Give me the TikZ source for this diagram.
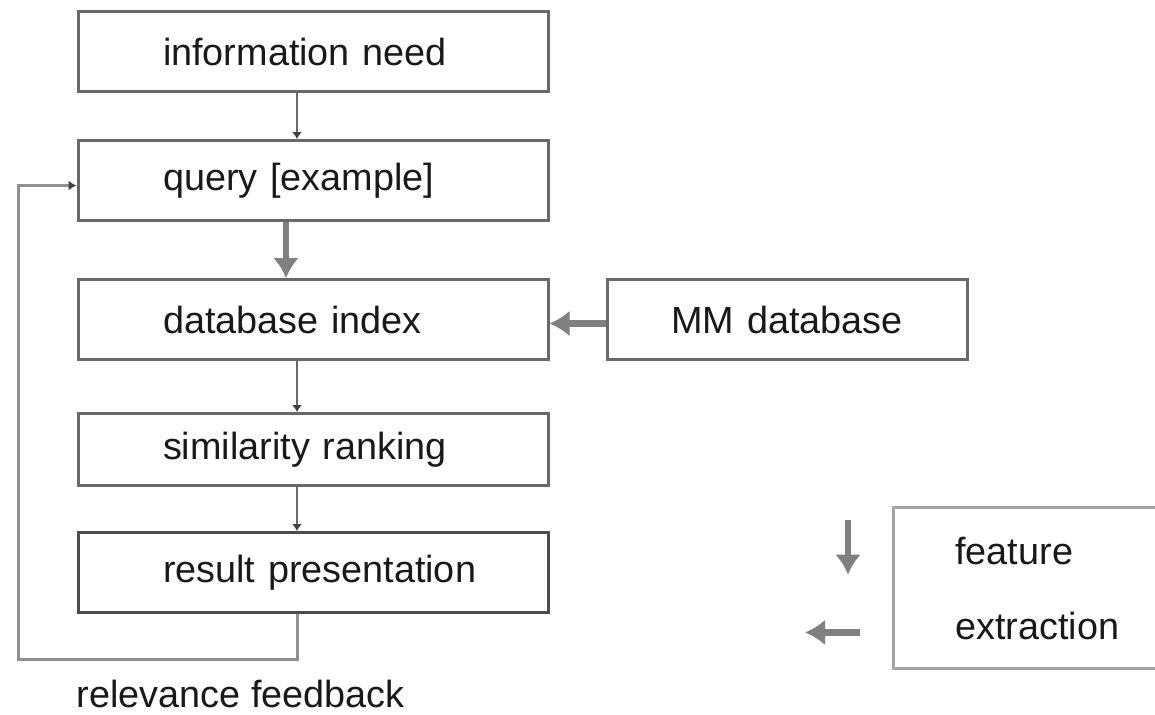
\documentclass[tikz,border=0pt]{standalone}
\usepackage{fontspec}
\setmainfont{Liberation Sans}
\usetikzlibrary{positioning, arrows.meta}
\definecolor{grisborde}{RGB}{105,105,105}
\definecolor{grisflecha}{RGB}{128,128,128}
\definecolor{grislazo}{RGB}{145,145,145}
\definecolor{grisabierto}{RGB}{165,165,165}
\tikzstyle{bloque} = [draw=grisborde, line width=1.5pt, rectangle, minimum height=40pt, text width=150pt, inner xsep=42.5pt, align=left, text=black!90, font=\fontsize{18.9}{22}\selectfont]
\tikzstyle{fina} = [draw=grisborde, line width=1pt, -{Latex[length=3.5pt,width=5pt,color=black!75]}]
\tikzstyle{gruesa} = [draw=grisflecha, line width=3.2pt, -{Latex[length=10pt,width=13pt]}]
\tikzstyle{retorno} = [draw=grislazo, line width=1.5pt, -{Latex[length=4pt,width=5pt,color=black!75]}]
\tikzstyle{abierta} = [draw=grisabierto, line width=1.5pt]

\begin{document}
\begin{tikzpicture}
	\useasboundingbox (0,0) rectangle (577.5pt,-357pt);
	% main chain
	\node[bloque] (need) at (156.5pt,-25.75pt) {information need};
	\node[bloque, below=23pt of need] (query) {query [example]};
	\node[bloque, below=28pt of query] (index) {database index};
	\node[bloque, below=25.5pt of index, minimum height=36pt] (ranking) {similarity ranking};
	\node[bloque, below=22pt of ranking, draw=black!70] (result) {\mbox{result presentation}};
	\node[bloque, right=28pt of index, text width=120pt, inner xsep=30pt, align=center] (mmdb) {MM database};
	\node[anchor=west, align=left, inner xsep=31pt, minimum height=80pt, text=black!90, font=\fontsize{18.9}{37.5}\selectfont] (feature) at (446.5pt,-294pt) {feature\\extraction};
	\node[anchor=base west, inner sep=0pt, text=black!90, font=\fontsize{18.9}{22}\selectfont] (feedback) at ([yshift=-46.5pt]result.south west) {relevance feedback};
	% arrows
	\draw[fina] ([xshift=-8pt]need.south) -- ([xshift=-8pt]query.north);
	\draw[gruesa] ([xshift=-13.5pt]query.south) -- ([xshift=-13.5pt]index.north);
	\draw[gruesa] ([yshift=-2pt]mmdb.west) -- ([yshift=-2pt]index.east);
	\draw[fina] ([xshift=-8pt]index.south) -- ([xshift=-8pt]ranking.north);
	\draw[fina] ([xshift=-8pt]ranking.south) -- ([xshift=-8pt]result.north);
	\draw[retorno] ([xshift=-8pt]result.south) -- ++(0,-22.5pt) -| ([xshift=-29pt,yshift=-2.5pt]query.west) -- ([yshift=-2.5pt]query.west);
	% open box on the right
	\coordinate (margen) at (577.5pt,0);
	\draw[abierta] (feature.north west -| margen) -- (feature.north west) -- (feature.south west) -- (feature.south west -| margen);
	\coordinate (bajoA) at ([xshift=-22.5pt,yshift=-6pt]feature.north west);
	\coordinate (bajoB) at ([xshift=-22.5pt,yshift=-33.5pt]feature.north west);
	\coordinate (izqA) at ([xshift=-16.5pt,yshift=18pt]feature.south west);
	\coordinate (izqB) at ([xshift=-44pt,yshift=18pt]feature.south west);
	\draw[gruesa] (bajoA) -- (bajoB);
	\draw[gruesa] (izqA) -- (izqB);
\end{tikzpicture}
\end{document}
